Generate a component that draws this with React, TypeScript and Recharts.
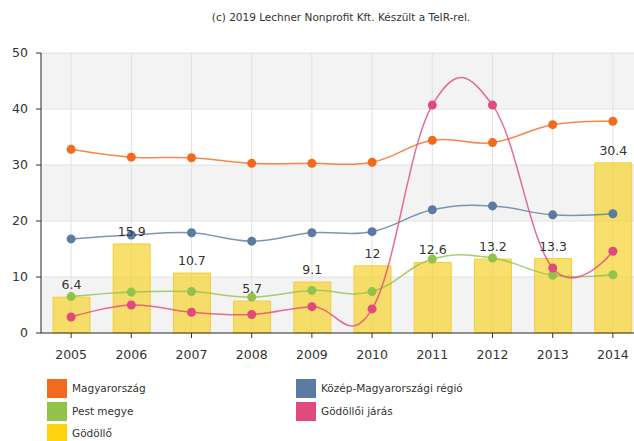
import {
  Bar,
  CartesianGrid,
  ComposedChart,
  LabelList,
  Legend,
  Line,
  XAxis,
  YAxis,
} from "recharts";

const YEARS = ["2005", "2006", "2007", "2008", "2009", "2010", "2011", "2012", "2013", "2014"];
const MAGYARORSZAG = [32.8, 31.4, 31.3, 30.3, 30.3, 30.5, 34.4, 34.0, 37.2, 37.8];
const KOZEP_MAGYARORSZAG = [16.8, 17.5, 17.9, 16.4, 17.9, 18.1, 22.0, 22.7, 21.1, 21.3];
const PEST_MEGYE = [6.5, 7.3, 7.4, 6.4, 7.6, 7.4, 13.2, 13.4, 10.3, 10.4];
const GODOLLOI_JARAS = [2.85, 5.0, 3.7, 3.3, 4.7, 4.3, 40.7, 40.7, 11.6, 14.6];
const GODOLLO = [6.4, 15.9, 10.7, 5.7, 9.1, 12, 12.6, 13.2, 13.3, 30.4];
const Y_TICKS = [0, 10, 20, 30, 40, 50];

const FONT = "'DejaVu Sans', sans-serif";

const LEGEND_ITEMS = [
  { name: "Magyarország", color: "#F26A1B" },
  { name: "Közép-Magyarországi régió", color: "#5B7BA3" },
  { name: "Pest megye", color: "#93C24B" },
  { name: "Gödöllői járás", color: "#E04A7C" },
  { name: "Gödöllő", color: "#FFD20F" },
];

const data = YEARS.map((year, i) => ({
  year,
  magyar: MAGYARORSZAG[i],
  kozep: KOZEP_MAGYARORSZAG[i],
  pest: PEST_MEGYE[i],
  jaras: GODOLLOI_JARAS[i],
  godollo: GODOLLO[i],
}));

// highcharts-like spline (smoothing 1.5, no extreme clamping)
const splineCurve = (context: any) => {
  let pts: [number, number][] = [];
  return {
    areaStart() {},
    areaEnd() {},
    lineStart() {
      pts = [];
    },
    point(x: number, y: number) {
      pts.push([+x, +y]);
    },
    lineEnd() {
      const sm = 1.5;
      const n = pts.length;
      if (!n) return;
      const lc: [number, number][] = [];
      const rc: [number, number][] = [];
      for (let i = 0; i < n; i++) {
        const [x, y] = pts[i];
        if (i > 0 && i < n - 1) {
          const [px, py] = pts[i - 1];
          const [nx, ny] = pts[i + 1];
          const lx = (sm * x + px) / (sm + 1);
          let ly = (sm * y + py) / (sm + 1);
          const rx = (sm * x + nx) / (sm + 1);
          let ry = (sm * y + ny) / (sm + 1);
          const corr = ((ry - ly) * (rx - x)) / (rx - lx) + y - ry;
          ly += corr;
          ry += corr;
          lc[i] = [lx, ly];
          rc[i] = [rx, ry];
        } else {
          lc[i] = [x, y];
          rc[i] = [x, y];
        }
      }
      context.moveTo(pts[0][0], pts[0][1]);
      for (let i = 1; i < n; i++) {
        context.bezierCurveTo(rc[i - 1][0], rc[i - 1][1], lc[i][0], lc[i][1], pts[i][0], pts[i][1]);
      }
    },
  };
};

function LegendBox() {
  return (
    <div
      style={{
        display: "grid",
        gridTemplateColumns: "249px 249px",
        gridAutoRows: "22.5px",
        paddingLeft: 47,
        height: 62,
        fontFamily: FONT,
        fontSize: 10.5,
        color: "#333",
        textAlign: "left",
      }}
    >
      {LEGEND_ITEMS.map((it) => (
        <div key={it.name} style={{ display: "flex", alignItems: "flex-start" }}>
          <span style={{ width: 20, height: 19, background: it.color, marginRight: 5, flexShrink: 0 }} />
          <span style={{ lineHeight: "19px" }}>{it.name}</span>
        </div>
      ))}
    </div>
  );
}

const lineProps = (key: string, color: string) => ({
  dataKey: key,
  type: splineCurve as any,
  stroke: color,
  strokeWidth: 1.5,
  strokeOpacity: 0.8,
  dot: { r: 4.5, fill: color, stroke: color, strokeWidth: 0, strokeOpacity: 1 },
  activeDot: false as const,
  isAnimationActive: false,
});

export default function App() {
  return (
    <div
      style={{
        position: "absolute",
        left: 0,
        top: 0,
        width: 634,
        height: 441,
        overflow: "hidden",
        background: "#fff",
      }}
    >
      <div
        style={{
          position: "absolute",
          left: 0,
          top: 11,
          width: 682,
          textAlign: "center",
          fontFamily: FONT,
          fontSize: 10.5,
          color: "#333",
          zIndex: 2,
        }}
      >
        (c) 2019 Lechner Nonprofit Kft. Készült a TeIR-rel.
      </div>
      <ComposedChart
        width={643}
        height={441}
        data={data}
        margin={{ top: 53, right: 0, left: 0, bottom: 0 }}
      >
        <CartesianGrid
          stroke="#e2e2e2"
          horizontalFill={["#f3f3f3", "#ffffff"]}
          fillOpacity={1}
        />
        <XAxis
          dataKey="year"
          interval={0}
          height={46}
          tickSize={5}
          tickMargin={12}
          stroke="#333"
          tick={{ fill: "#333", fontSize: 12.5, fontFamily: FONT }}
        />
        <YAxis
          width={41}
          domain={[0, 50]}
          ticks={Y_TICKS}
          tickSize={5}
          tickMargin={8}
          stroke="#333"
          tick={{ fill: "#333", fontSize: 12.5, fontFamily: FONT }}
        />
        <Legend verticalAlign="bottom" content={() => <LegendBox />} />
        <Bar
          dataKey="godollo"
          barSize={37}
          fill="#F7D22C"
          fillOpacity={0.7}
          stroke="#F0CF3C"
          strokeWidth={1}
          isAnimationActive={false}
        >
          <LabelList
            dataKey="godollo"
            position="top"
            offset={8}
            fill="#333"
            fontSize={12.5}
            fontFamily={FONT}
          />
        </Bar>
        <Line {...lineProps("magyar", "#F26A1B")} />
        <Line {...lineProps("kozep", "#5B7BA3")} />
        <Line {...lineProps("pest", "#93C24B")} />
        <Line {...lineProps("jaras", "#E04A7C")} />
      </ComposedChart>
    </div>
  );
}
